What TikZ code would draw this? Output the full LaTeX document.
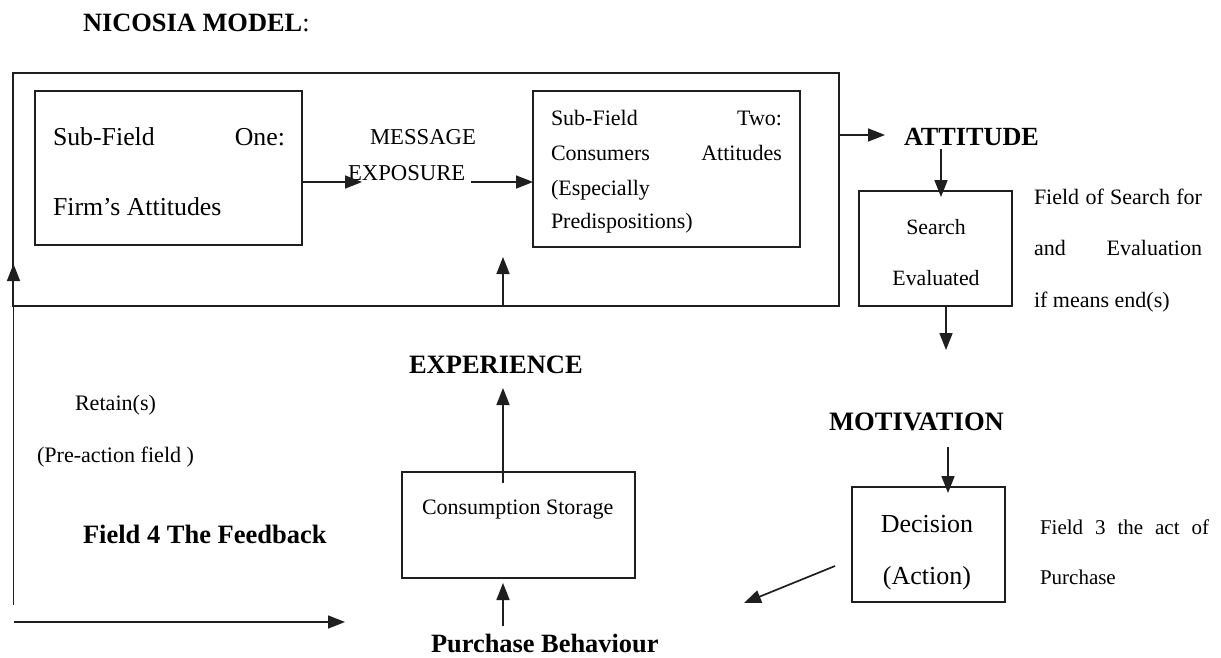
\documentclass[tikz,border=0pt]{standalone}
\usepackage{fontspec}
\setmainfont{Liberation Serif}
\usetikzlibrary{arrows.meta}
\newcommand{\fs}[1]{\fontsize{#1}{#1}\selectfont}
\tikzset{
  ln/.style={line width=1.7pt, draw=black!88},
  arr/.style={ln, -{Triangle[length=17pt,width=13pt]}},
  boxn/.style={ln, rectangle, inner sep=0pt, outer sep=0pt},
  txt/.style={inner sep=0pt, outer sep=0pt, anchor=base west},
  txtc/.style={inner sep=0pt, outer sep=0pt, anchor=base},
  txte/.style={inner sep=0pt, outer sep=0pt, anchor=base east},
}
\begin{document}
\begin{tikzpicture}[x=1pt,y=-1pt]
\useasboundingbox[fill=white] (0,0) rectangle (1221,658);

% title
\node[txt] (title) at (83,32) {\fs{26.4}\textbf{NICOSIA MODEL}:};

% boxes
\node[boxn, minimum width=826pt, minimum height=233pt] (outer) at (426,189.5) {};
\node[boxn, minimum width=267pt, minimum height=154pt] (box1) at (168.5,168) {};
\node[boxn, minimum width=267pt, minimum height=156pt] (box2) at (666.5,169) {};
\node[boxn, minimum width=153pt, minimum height=115pt] (search) at (935.5,248.5) {};
\node[boxn, minimum width=153pt, minimum height=115pt] (decision) at (928.5,544.5) {};
\node[boxn, minimum width=233pt, minimum height=106pt] (cons) at (518.5,525) {};

% box1 text
\node[txt] (b1l1) at (53,145.5) {\fs{25.8}\hbox to 232pt{Sub-Field\hfill One:}};
\node[txt] (b1l2) at (53,215.5) {\fs{25.8}Firm’s Attitudes};

% message exposure
\node[txt] (msg) at (370,144.5) {\fs{22.7}MESSAGE};
\node[txt] (expo) at (348,180.5) {\fs{22.7}EXPOSURE};

% box2 text
\node[txt] (b2l1) at (551,126) {\fs{22}\hbox to 231pt{Sub-Field\hfill Two:}};
\node[txt] (b2l2) at (551,160.5) {\fs{22}\hbox to 231pt{Consumers\hfill Attitudes}};
\node[txt] (b2l3) at (551,195) {\fs{22}(Especially};
\node[txt] (b2l4) at (551,228) {\fs{22}Predispositions)};

% attitude
\node[txt] (att) at (904,145.6) {\fs{26.2}\textbf{ATTITUDE}};

% search text
\node[txtc] (s1) at (936,234) {\fs{21.8}Search};
\node[txtc] (s2) at (936,285) {\fs{21.8}Evaluated};
\node[txt] (f1) at (1034,204.4) {\fs{22}\hbox to 168pt{Field of Search for}};
\node[txt] (f2) at (1034,255.4) {\fs{22}\hbox to 168pt{and\hfill Evaluation}};
\node[txt] (f3) at (1034,307.4) {\fs{22}if means end(s)};

% motivation
\node[txt] (mot) at (829,430.8) {\fs{26.6}\textbf{MOTIVATION}};

% decision
\node[txtc] (d1) at (927,532.6) {\fs{26}Decision};
\node[txtc] (d2) at (927,584.6) {\fs{26}(Action)};
\node[txt] (g1) at (1040,534.5) {\fs{21}\hbox to 169pt{Field\hfill 3\hfill the\hfill act\hfill of}};
\node[txt] (g2) at (1040,584.5) {\fs{21}Purchase};

% experience / consumption
\node[txt] (exp) at (409,373.7) {\fs{26.5}\textbf{EXPERIENCE}};
\node[txt] (cs) at (422,514) {\fs{22}Consumption Storage};
\node[txt] (pb) at (431,652) {\fs{26.4}\textbf{Purchase Behaviour}};

% feedback
\node[txt] (ret) at (75,410.5) {\fs{22.1}Retain(s)};
\node[txt] (pre) at (37,462.5) {\fs{22.1}(Pre-action field )};
\node[txt] (fb) at (83,543.7) {\fs{26.5}\textbf{Field 4 The Feedback}};

% connector end points
\coordinate (a1e) at (362,182);
\coordinate (a2s) at (471,182);
\coordinate (a3e) at (503,257);
\coordinate (a4e) at (885,135);
\coordinate (a5s) at (941,149);
\coordinate (a6e) at (946,350);
\coordinate (a7s) at (948,447);
\coordinate (a8s) at (835,566);
\coordinate (a8e) at (744,603);
\coordinate (a9s) at (503,626);
\coordinate (a10s) at (503,483);
\coordinate (a10e) at (503,388);
\coordinate (fbtop) at (13.5,264);
\coordinate (fbbot) at (13.5,605);
\coordinate (fbl) at (14,622);
\coordinate (fbr) at (345,622);

% connectors
\draw[arr] (box1.east |- a1e) -- (a1e);
\draw[arr] (a2s) -- (a2s -| box2.west);
\draw[arr] (a3e |- outer.south) -- (a3e);
\draw[arr] (outer.east |- a4e) -- (a4e);
\draw[arr] (a5s) -- ([yshift=-6pt]a5s |- search.north);
\draw[arr] (a6e |- search.south) -- (a6e);
\draw[arr] (a7s) -- ([yshift=-6pt]a7s |- decision.north);
\draw[arr] (a8s) -- (a8e);
\draw[arr] (a9s) -- ([yshift=-5pt]a9s |- cons.south);
\draw[arr] (a10s) -- (a10e);
\draw[arr] (fbbot) -- (fbtop);
\draw[arr] (fbl) -- (fbr);
\end{tikzpicture}
\end{document}
